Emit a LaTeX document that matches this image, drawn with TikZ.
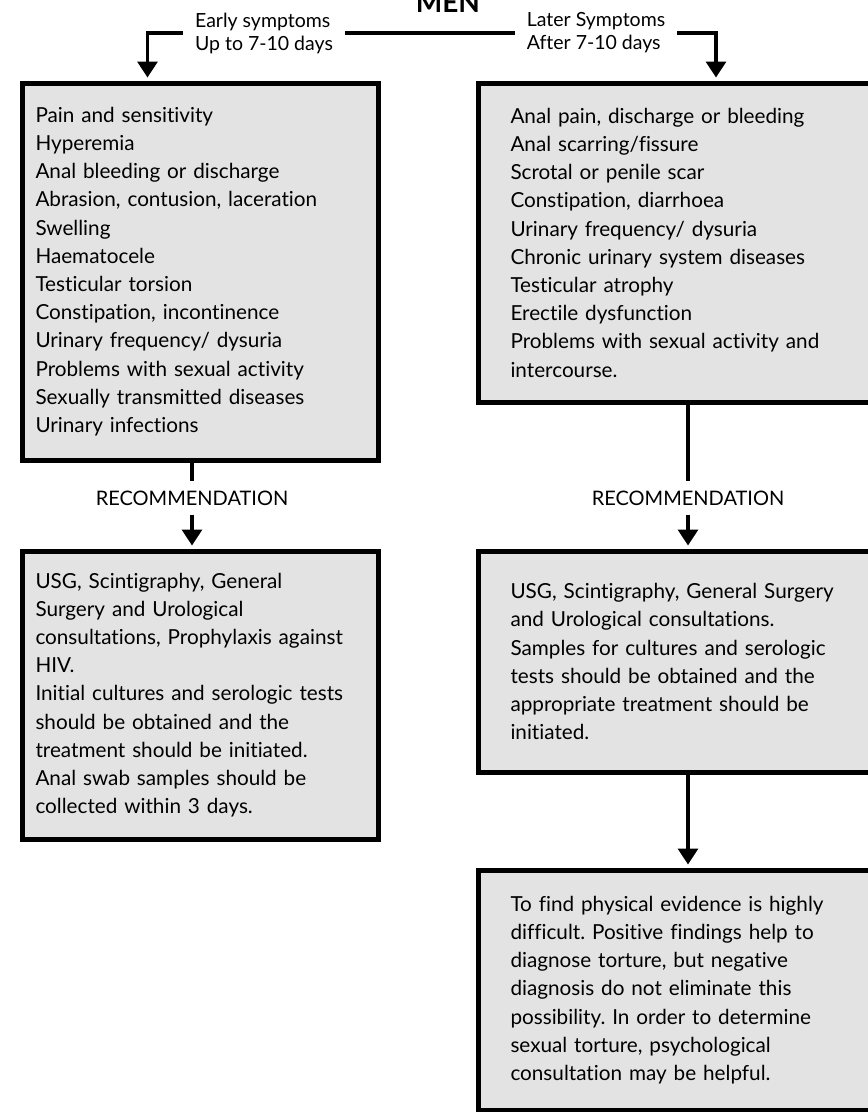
\documentclass[tikz,border=0pt]{standalone}
\usepackage{fontspec}
\setmainfont{Lato}[Ligatures={NoCommon}]
\usetikzlibrary{arrows.meta,positioning}
\frenchspacing

\tikzset{
  symbox/.style={draw=black,line width=5pt,fill=black!11,anchor=north west,
    align=left,font=\fontsize{20.7}{28.2}\selectfont,inner ysep=0pt},
  leftbox/.style={symbox,inner xsep=13.5pt,text width=329pt,minimum width=356pt},
  rightbox/.style={symbox,inner xsep=32.5pt,text width=356pt,minimum width=421pt},
  period/.style={align=left,font=\fontsize{19.5}{23}\selectfont,inner xsep=12pt,inner ysep=0pt},
  recom/.style={font=\fontsize{20}{22}\selectfont,inner xsep=0pt,inner ysep=9pt},
  conn/.style={line width=3.3pt},
  connarr/.style={conn,-{Triangle[width=20pt,length=16pt]}},
}

\begin{document}
\begin{tikzpicture}[x=1pt,y=-1pt]
  \useasboundingbox (0,0) rectangle (868,1112);

  % title, cut by the top edge
  \node[font=\bfseries\fontsize{28}{30}\selectfont,anchor=base] (title) at (448,12) {MEN};

  % the two periods
  \node[period] (early) at (264,33) {Early symptoms\\Up to 7-10 days};
  \node[period] (later) at (596,33) {Later Symptoms\\After 7-10 days};

  % left column
  \node[leftbox,minimum height=377pt] (lsym) at (19.5,80.5) {Pain and sensitivity\\
    Hyperemia\\
    Anal bleeding or discharge\\
    Abrasion, contusion, laceration\\
    Swelling\\
    Haematocele\\
    Testicular torsion\\
    Constipation, incontinence\\
    Urinary frequency/ dysuria\\
    Problems with sexual activity\\
    Sexually transmitted diseases\\
    Urinary infections};
  \node[recom] (lrec) at (192,498) {RECOMMENDATION};
  \node[leftbox,minimum height=288pt] (ltest) at (19.5,548.5) {USG, Scintigraphy, General\\
    Surgery and Urological\\
    consultations, Prophylaxis against\\
    HIV.\\
    Initial cultures and serologic tests\\
    should be obtained and the\\
    treatment should be initiated.\\
    Anal swab samples should be\\
    collected within 3 days.};

  % right column
  \node[rightbox,minimum height=319.5pt] (rsym) at (475.5,80.5) {Anal pain, discharge or bleeding\\
    Anal scarring/fissure\\
    Scrotal or penile scar\\
    Constipation, diarrhoea\\
    Urinary frequency/ dysuria\\
    Chronic urinary system diseases\\
    Testicular atrophy\\
    Erectile dysfunction\\
    Problems with sexual activity and\\
    intercourse.};
  \node[recom] (rrec) at (688,498) {RECOMMENDATION};
  \node[rightbox,minimum height=221.5pt] (rtest) at (475.5,548.5) {USG, Scintigraphy, General Surgery\\
    and Urological consultations.\\
    Samples for cultures and serologic\\
    tests should be obtained and the\\
    appropriate treatment should be\\
    initiated.};
  \node[rightbox,minimum height=240pt] (rnote) at (475.5,867.5) {To find physical evidence is highly\\
    difficult. Positive findings help to\\
    diagnose torture, but negative\\
    diagnosis do not eliminate this\\
    possibility. In order to determine\\
    sexual torture, psychological\\
    consultation may be helpful.};

  % connectors
  \draw[conn] (early.east) -- (later.west);
  \draw[connarr,shorten >=3pt] (early.west) -| ([xshift=128pt]lsym.north west);
  \draw[connarr,shorten >=3pt] (later.east) -| ([xshift=240.5pt]rsym.north west);
  \draw[conn] (lsym.south -| lrec.north) -- (lrec.north);
  \draw[connarr,shorten >=3pt] (lrec.south) -- (lrec.south |- ltest.north);
  \draw[conn] (rsym.south -| rrec.north) -- (rrec.north);
  \draw[connarr,shorten >=3pt] (rrec.south) -- (rrec.south |- rtest.north);
  \draw[connarr,shorten >=3pt] (rtest.south -| rrec) -- (rnote.north -| rrec);
\end{tikzpicture}
\end{document}
